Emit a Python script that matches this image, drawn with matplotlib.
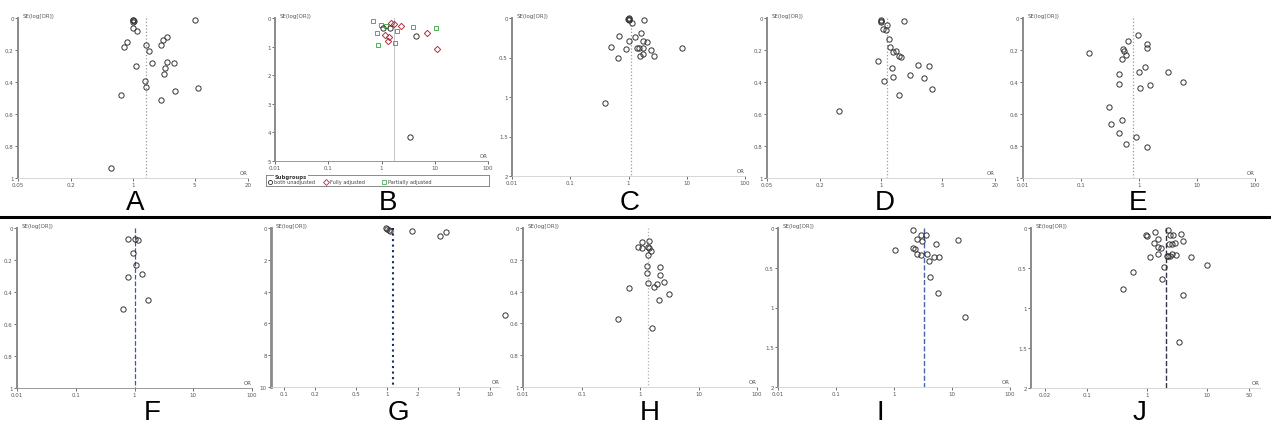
import matplotlib
matplotlib.use("Agg")
import matplotlib.pyplot as plt
from matplotlib.ticker import FixedLocator, NullLocator
from matplotlib.lines import Line2D

W, H = 1271, 427

# ---------------- data ----------------
a_or = [1.0, 1.01, 1.02, 1.0, 5.0, 1.0, 1.1, 0.86, 0.80, 1.39, 1.52, 2.09, 2.19, 2.43, 1.64, 1.09,
        2.43, 2.91, 2.30, 2.24, 1.38, 1.39, 2.96, 5.44, 0.74, 2.09, 0.57]
a_se = [0.01, 0.015, 0.02, 0.022, 0.01, 0.065, 0.08, 0.148, 0.18, 0.169, 0.206, 0.169, 0.1375, 0.119,
        0.281, 0.302, 0.277, 0.283, 0.3125, 0.35, 0.392, 0.433, 0.458, 0.44, 0.479, 0.5125, 0.935]
a_pooled = 1.42

b_both_or = [1.07, 1.43, 4.4, 3.5]
b_both_se = [0.35, 0.36, 0.64, 4.15]
b_full_or = [1.52, 1.70, 2.30, 1.15, 1.30, 7.3, 11.0, 1.39]
b_full_se = [0.175, 0.22, 0.27, 0.6, 0.82, 0.51, 1.09, 0.68]
b_part_or = [0.70, 0.81, 0.85, 0.99, 1.83, 1.99, 3.87, 10.4, 1.19]
b_part_se = [0.105, 0.54, 0.93, 0.25, 0.89, 0.47, 0.30, 0.36, 0.27]
b_pooled = 1.70
b_groups = ["both unadjusted", "Fully adjusted", "Partially adjusted"]

c_or = [1.0, 1.0, 1.01, 0.99, 1.83, 1.14, 1.63, 0.69, 1.30, 1.04, 1.74, 2.06, 0.50, 0.92, 1.39,
        1.54, 1.76, 2.48, 8.2, 1.76, 1.56, 2.72, 0.67, 0.40]
c_se = [0.0, 0.01, 0.02, 0.015, 0.02, 0.067, 0.19, 0.226, 0.24, 0.29, 0.29, 0.31, 0.364, 0.39, 0.38,
        0.38, 0.38, 0.41, 0.38, 0.45, 0.48, 0.48, 0.51, 1.08]
c_pooled = 1.10

d_or = [1.0, 1.01, 1.0, 1.82, 1.16, 1.05, 1.15, 1.25, 1.26, 1.38, 1.48, 1.59, 1.68, 0.93, 1.33,
        2.67, 3.55, 2.12, 1.38, 3.08, 1.07, 3.84, 1.59, 0.33]
d_se = [0.013, 0.018, 0.023, 0.017, 0.044, 0.069, 0.075, 0.131, 0.179, 0.21, 0.204, 0.235, 0.246,
        0.269, 0.3125, 0.296, 0.30, 0.356, 0.367, 0.377, 0.392, 0.446, 0.479, 0.581]
d_pooled = 1.17

e_or = [0.97, 0.64, 1.39, 1.35, 0.54, 0.55, 0.60, 0.14, 0.50, 1.25, 1.0, 3.14, 0.45, 5.75, 0.45,
        1.03, 1.54, 0.31, 0.50, 0.33, 0.45, 0.88, 0.60, 1.37]
e_se = [0.104, 0.146, 0.1625, 0.19, 0.196, 0.208, 0.229, 0.221, 0.258, 0.308, 0.3375, 0.335, 0.35,
        0.398, 0.415, 0.4375, 0.417, 0.558, 0.64, 0.665, 0.717, 0.744, 0.79, 0.804]
e_pooled = 0.80

f_or = [0.78, 1.03, 1.13, 0.95, 1.07, 0.77, 1.32, 1.69, 0.63]
f_se = [0.067, 0.067, 0.073, 0.154, 0.229, 0.304, 0.285, 0.451, 0.509]
f_pooled = 1.0

g_or = [0.99, 1.01, 1.04, 1.07, 1.76, 3.3, 3.77]
g_se = [0.02, 0.08, 0.12, 0.17, 0.21, 0.52, 0.25]
g_pooled = 1.16

h_or = [1.07, 1.42, 0.94, 1.10, 1.39, 1.44, 1.52, 1.39, 1.33, 2.16, 1.33, 2.22, 1.37, 1.97, 1.73,
        2.53, 0.65, 3.12, 2.08, 0.42, 1.62, 0.005]
h_se = [0.086, 0.079, 0.121, 0.123, 0.117, 0.128, 0.146, 0.167, 0.24, 0.243, 0.285, 0.293, 0.343,
        0.351, 0.372, 0.337, 0.377, 0.414, 0.454, 0.571, 0.628, 0.55]
h_pooled = 1.39

i_or = [2.13, 2.88, 3.61, 2.52, 3.08, 5.22, 12.6, 1.03, 2.15, 2.27, 2.52, 2.88, 3.66, 4.82, 5.88,
        4.0, 4.17, 5.65, 16.9]
i_se = [0.021, 0.092, 0.084, 0.134, 0.159, 0.20, 0.15, 0.272, 0.247, 0.268, 0.326, 0.335, 0.326,
        0.364, 0.364, 0.41, 0.615, 0.82, 1.125]
i_pooled = 3.29

j_or = [2.24, 1.38, 0.99, 1.0, 2.45, 2.78, 3.68, 1.53, 3.98, 1.33, 2.36, 2.61, 2.97, 1.56, 1.71,
        1.12, 1.53, 2.15, 2.30, 2.45, 2.64, 3.08, 5.42, 10.25, 1.97, 0.58, 1.78, 0.40, 3.98, 3.41]
j_se = [0.025, 0.054, 0.083, 0.10, 0.083, 0.0875, 0.075, 0.133, 0.158, 0.19, 0.20, 0.20, 0.183,
        0.24, 0.25, 0.358, 0.325, 0.354, 0.35, 0.346, 0.325, 0.333, 0.367, 0.4625, 0.483, 0.55,
        0.64, 0.7625, 0.8375, 1.42]
j_pooled = 2.13

x_ticks_a = [0.05, 0.2, 1, 5, 20]
x_ticks_dec = [0.01, 0.1, 1, 10, 100]
x_ticks_g = [0.1, 0.2, 0.5, 1, 2, 5, 10]
x_ticks_j = [0.02, 0.1, 1, 10, 50]
y_ticks_1 = [0, 0.2, 0.4, 0.6, 0.8, 1]
y_ticks_2 = [0, 0.5, 1, 1.5, 2]
y_ticks_5 = [0, 1, 2, 3, 4, 5]
y_ticks_10 = [0, 2, 4, 6, 8, 10]
panel_letters = ["A", "B", "C", "D", "E", "F", "G", "H", "I", "J"]

# ---------------- figure ----------------
fig = plt.figure(figsize=(W / 100, H / 100), dpi=100)
fig.patch.set_facecolor("white")


def rect(x0, yt, x1, yb):
    return [x0 / W, 1 - yb / H, (x1 - x0) / W, (yb - yt) / H]


def fmt(v):
    return "%g" % v


def make_axes(r, xlim, xticks, ylim, yticks, ylabel="SE(log[OR])"):
    ax = fig.add_axes(rect(*r))
    ax.set_xscale("log")
    ax.set_xlim(*xlim)
    ax.set_ylim(ylim, 0)
    ax.xaxis.set_major_locator(FixedLocator(xticks))
    ax.xaxis.set_minor_locator(NullLocator())
    ax.set_xticklabels([fmt(t) for t in xticks])
    ax.set_yticks(yticks)
    ax.set_yticklabels([fmt(t) for t in yticks])
    for s in ["top", "right"]:
        ax.spines[s].set_visible(False)
    ax.spines["left"].set_color("#8a8a8a")
    ax.spines["left"].set_linewidth(1.4)
    ax.spines["bottom"].set_color("#d0d0d0")
    ax.spines["bottom"].set_linewidth(0.6)
    ax.tick_params(axis="both", labelsize=4, colors="#555555", length=2, width=0.6, pad=1)
    ax.text(0.02, 1.0, ylabel, transform=ax.transAxes, fontsize=4, color="#555555",
            ha="left", va="bottom")
    ax.text(1.0, 0.02, "OR", transform=ax.transAxes, fontsize=4, color="#555555",
            ha="right", va="bottom")
    ax.set_facecolor("none")
    return ax


def pts(ax, xs, ys, marker="o", color="#333333", ms=3.8):
    ax.plot(xs, ys, linestyle="none", marker=marker, markerfacecolor="none",
            markeredgecolor=color, markeredgewidth=0.7, markersize=ms, clip_on=False)


def vline(ax, x, color="#9a9a9a", ls=":", lw=0.9):
    ax.plot([x, x], [0, ax.get_ylim()[0]], color=color, linestyle=ls, linewidth=lw)


# A
ax = make_axes((18, 19, 248, 179), (0.05, 20), x_ticks_a, 1, y_ticks_1)
vline(ax, a_pooled)
pts(ax, a_or, a_se)

# B
ax = make_axes((275, 19, 488, 162), (0.01, 100), x_ticks_dec, 5, y_ticks_5)
ax.spines["bottom"].set_color("#888888")
vline(ax, b_pooled, color="#bbbbbb", ls="-", lw=0.6)
pts(ax, b_part_or, b_part_se, marker="s", color="#4caf50", ms=3.2)
pts(ax, b_full_or, b_full_se, marker="D", color="#b03040", ms=3.2)
pts(ax, b_both_or, b_both_se, marker="o", color="#333333")
lax = fig.add_axes(rect(266, 176, 489, 187))
lax.set_xticks([]); lax.set_yticks([])
for s in lax.spines.values():
    s.set_color("#777777"); s.set_linewidth(0.6)
lax.set_xlim(0, 1); lax.set_ylim(0, 1)
lax.text(0.04, 0.88, "Subgroups", fontsize=3.8, fontweight="bold", va="center", ha="left",
         color="#333333", bbox=dict(facecolor="white", edgecolor="none", pad=0.3))
leg_x = [0.01, 0.26, 0.52]
leg_m = ["o", "D", "s"]
leg_c = ["#333333", "#b03040", "#4caf50"]
for xx, mk, cc, lab in zip(leg_x, leg_m, leg_c, b_groups):
    lax.plot([xx + 0.008], [0.38], marker=mk, markerfacecolor="none", markeredgecolor=cc,
             markeredgewidth=0.6, markersize=3, linestyle="none")
    lax.text(xx + 0.025, 0.38, lab, fontsize=3.6, va="center", ha="left", color="#444444")

# C
ax = make_axes((512, 19, 745, 177), (0.01, 100), x_ticks_dec, 2, y_ticks_2)
vline(ax, c_pooled)
pts(ax, c_or, c_se)

# D
ax = make_axes((767, 19, 995, 179), (0.05, 20), x_ticks_a, 1, y_ticks_1)
vline(ax, d_pooled)
pts(ax, d_or, d_se)

# E
ax = make_axes((1023, 19, 1255, 179), (0.01, 100), x_ticks_dec, 1, y_ticks_1)
vline(ax, e_pooled)
pts(ax, e_or, e_se)

# F
ax = make_axes((17, 229, 252, 389), (0.01, 100), x_ticks_dec, 1, y_ticks_1)
ax.spines["bottom"].set_color("#888888")
vline(ax, f_pooled, color="#3a5a9a", ls="--", lw=0.9)
pts(ax, f_or, f_se)

# G
ax = make_axes((271, 229, 500, 388), (0.075, 12.6), x_ticks_g, 10, y_ticks_10)
ax.spines["left"].set_linewidth(2.0)
vline(ax, g_pooled, color="#1a2a6a", ls=":", lw=1.5)
pts(ax, g_or, g_se)

# H
ax = make_axes((523, 229, 757, 388), (0.01, 100), x_ticks_dec, 1, y_ticks_1)
vline(ax, h_pooled, color="#b0b0b0", ls=":", lw=0.9)
pts(ax, h_or, h_se)

# I
ax = make_axes((778, 229, 1010, 388), (0.01, 100), x_ticks_dec, 2, y_ticks_2)
vline(ax, i_pooled, color="#4466aa", ls="--", lw=1.0)
pts(ax, i_or, i_se)

# J
ax = make_axes((1031, 229, 1260, 389), (0.0118, 77), x_ticks_j, 2, y_ticks_2)
vline(ax, j_pooled, color="#333344", ls="--", lw=1.0)
pts(ax, j_or, j_se)

# panel letters
letter_pos = [(135, 203), (388, 203), (630, 203), (885, 203), (1138, 203),
              (152, 413), (398, 413), (650, 413), (880, 413), (1140, 413)]
for lab, (px, py) in zip(panel_letters, letter_pos):
    fig.text(px / W, 1 - py / H, lab, fontsize=20, family="Liberation Sans",
             ha="center", va="center", color="black")

# separator line
fig.add_artist(Line2D([0, 1], [1 - 218 / H, 1 - 218 / H], color="black", linewidth=2.2,
                      transform=fig.transFigure))

fig.savefig("out.png", dpi=100, facecolor="white")
